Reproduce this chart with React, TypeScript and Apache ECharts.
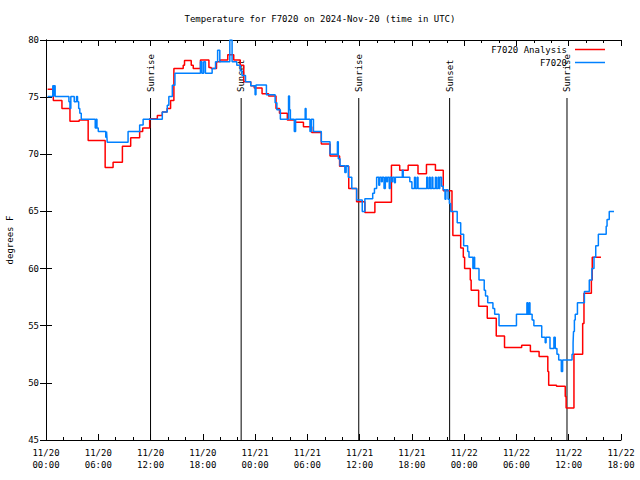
import React, { useEffect, useRef } from 'react';
import * as echarts from 'echarts';

const chartTitle = 'Temperature for F7020 on 2024-Nov-20 (time in UTC)';
const yAxisTitle = 'degrees F';
const seriesNames = ['F7020 Analysis', 'F7020'];

// x axis: hours since 11/20 00:00 UTC
const xDayLabels = ['11/20', '11/20', '11/20', '11/20', '11/21', '11/21', '11/21', '11/21', '11/22', '11/22', '11/22', '11/22'];
const xHourLabels = ['00:00', '06:00', '12:00', '18:00', '00:00', '06:00', '12:00', '18:00', '00:00', '06:00', '12:00', '18:00'];
const X_MIN = 0;
const X_MAX = 66;
const X_STEP = 6;
const Y_MIN = 45;
const Y_MAX = 80;
const Y_STEP = 5;

// F7020 Analysis (red), step series: hour when value begins, value
const analysisHours = [
  0.19, 0.84, 1.83, 2.75, 3.81, 4.84, 6.79, 7.7, 8.77, 9.72, 10.75, 11.1, 11.9, 12.78, 13.35, 13.9, 14.3,
  14.68, 15.75, 15.9, 16.67, 16.9, 17.73, 18.7, 18.96, 19.57, 20.0, 20.86, 21.55, 22.3, 22.7, 23.5, 23.9,
  24.8, 25.55, 26.4, 26.8, 27.7, 28.6, 29.55, 30.5, 31.6, 32.6, 33.7, 34.75, 35.65, 36.6, 37.75, 39.65,
  40.6, 41.57, 42.7, 43.67, 44.7, 45.6, 46.6, 46.7, 47.6, 47.9, 48.05, 48.7, 48.8, 49.66, 50.65, 51.68,
  52.63, 54.6, 55.6, 56.6, 57.6, 57.7, 58.6, 59.6, 59.7, 60.6, 61.6, 61.75, 62.6, 62.7, 63.7,
];
const analysisTemps = [
  75.7, 74.7, 74.0, 72.9, 73.0, 71.2, 68.85, 69.3, 70.7, 71.45, 72.0, 72.3, 73.1, 73.4, 73.7, 74.0, 74.7,
  77.5, 77.8, 78.2, 77.8, 77.5, 78.25, 77.6, 77.5, 78.1, 78.25, 78.7, 78.25, 77.8, 76.35, 76.0, 75.8,
  75.3, 75.1, 74.0, 73.6, 73.0, 72.8, 72.4, 71.9, 70.9, 69.85, 68.95, 67.0, 65.85, 64.9, 65.8, 69.05,
  68.6, 69.05, 68.3, 69.1, 68.6, 66.8, 65.0, 62.9, 61.8, 61.0, 60.0, 59.0, 58.1, 56.7, 55.65, 54.1,
  53.1, 53.3, 52.75, 52.3, 51.0, 49.8, 49.7, 48.8, 47.8, 52.5, 55.2, 57.85, 59.0, 61.0, 61.0,
];

// F7020 observations (blue)
const obsHours = [
  0.19, 0.78, 0.88, 0.95, 1.05, 2.63, 2.75, 2.85, 3.24, 3.5, 3.62, 3.75, 3.88, 4.05, 5.65, 5.75, 5.85,
  6.0, 6.86, 6.95, 7.03, 9.42, 10.75, 11.15, 13.35, 13.92, 14.1, 14.5, 14.8, 17.73, 17.9, 18.1, 18.3,
  19.07, 19.46, 19.7, 19.95, 21.1, 21.36, 21.9, 22.3, 22.5, 22.9, 23.5, 24.0, 24.1, 25.3, 26.3, 26.5,
  26.9, 27.84, 27.95, 28.05, 28.5, 28.65, 29.75, 29.85, 30.3, 30.45, 30.7, 31.6, 32.6, 33.45, 33.55,
  33.75, 34.3, 34.45, 34.7, 35.1, 35.66, 36.3, 36.6, 37.5, 37.7, 37.95, 38.2, 38.3, 38.5, 38.6, 38.8,
  38.95, 39.1, 39.2, 39.4, 39.5, 39.7, 39.8, 40.0, 40.1, 40.9, 41.0, 41.76, 42.0, 42.3, 42.4, 42.6,
  42.7, 43.7, 43.8, 44.0, 44.1, 44.3, 44.4, 44.7, 44.8, 45.0, 45.1, 45.2, 45.4, 45.6, 45.8, 45.9,
  46.15, 46.3, 46.45, 46.6, 47.2, 47.6, 47.94, 48.4, 48.55, 49.0, 49.1, 49.2, 49.3, 49.7, 50.3, 50.45,
  50.7, 51.3, 51.5, 52.0, 54.0, 55.2, 55.3, 55.45, 55.55, 55.8, 56.0, 56.9, 57.3, 57.4, 57.85, 58.3,
  58.45, 58.65, 58.85, 59.15, 59.3, 60.38, 60.5, 60.55, 60.65, 60.75, 61.0, 61.8, 62.36, 62.66, 62.9,
  63.1, 63.4, 64.3, 64.4, 64.65, 65.2,
];
const obsTemps = [
  75.05, 76.0, 75.05, 76.0, 75.05, 74.6, 74.0, 75.05, 74.6, 75.05, 74.6, 74.0, 73.6, 73.06, 72.3, 73.06, 72.3,
  72.0, 71.5, 72.0, 71.05, 72.0, 72.56, 73.06, 73.7, 74.3, 75.05, 76.05, 77.08, 78.1, 77.08, 78.1, 77.08,
  77.5, 78.1, 79.1, 78.1, 80.0, 78.1, 77.8, 77.3, 76.9, 76.35, 76.0, 75.2, 76.06, 75.2, 74.5, 73.9,
  73.06, 75.1, 73.9, 73.06, 72.0, 73.06, 74.0, 73.06, 72.0, 73.06, 72.0, 71.1, 70.0, 71.1, 69.6,
  69.0, 68.4, 69.0, 68.0, 67.0, 66.0, 65.0, 66.1, 66.6, 67.0, 68.0, 67.3, 68.0, 67.6, 68.0, 67.0,
  68.0, 67.6, 68.0, 67.0, 68.0, 67.6, 68.0, 67.5, 68.0, 68.6, 68.0, 67.6, 67.0, 68.0, 67.0, 68.0,
  67.0, 68.0, 67.0, 68.0, 67.0, 68.0, 67.0, 68.0, 67.0, 68.0, 67.0, 68.0, 67.2, 66.9, 66.06, 66.9,
  66.06, 65.7, 65.0, 65.0, 64.0, 63.0, 62.0, 61.5, 61.0, 60.0, 61.0, 60.0, 60.0, 59.0, 58.1, 57.6,
  57.0, 56.5, 56.0, 55.0, 56.0, 57.0, 56.0, 57.0, 56.0, 55.5, 55.0, 54.0, 53.5, 54.0, 53.0, 54.0,
  53.0, 52.5, 52.0, 51.0, 52.0, 52.5, 53.5, 54.5, 55.5, 56.0, 57.0, 58.0, 59.0, 60.0, 61.0,
  62.0, 63.0, 63.7, 64.3, 65.0, 65.0,
];

// sunrise / sunset markers (hours since 11/20 00:00 UTC)
const sunHours = [12.0, 22.4, 35.9, 46.33, 59.8];
const sunLabels = ['Sunrise', 'Sunset', 'Sunrise', 'Sunset', 'Sunrise'];

const FONT = 'DejaVu Sans Mono';
const FS = 9;

export default function App() {
  const ref = useRef<HTMLDivElement>(null);
  useEffect(() => {
    if (!ref.current) return;
    const chart = echarts.init(ref.current, undefined, { renderer: 'svg' });
    const axisCommon = {
      type: 'value' as const,
      axisLine: { show: true, lineStyle: { color: '#000', width: 1 } },
      splitLine: { show: false },
    };
    chart.setOption({
      animation: false,
      backgroundColor: '#fff',
      textStyle: { fontFamily: FONT, fontSize: FS, color: '#000' },
      title: {
        text: chartTitle,
        left: 'center',
        top: 14,
        padding: 0,
        textStyle: { fontFamily: FONT, fontSize: FS, fontWeight: 'normal', color: '#000' },
      },
      legend: {
        data: seriesNames,
        orient: 'vertical',
        right: 30,
        top: 40,
        align: 'right',
        icon: 'rect',
        itemWidth: 30,
        itemHeight: 1.5,
        itemGap: 4,
        textStyle: { fontFamily: FONT, fontSize: FS, color: '#000', padding: [0, 3, 0, 0] },
      },
      grid: { left: 46, right: 19, top: 40, bottom: 40, containLabel: false, outerBoundsMode: 'none' },
      xAxis: [
        {
          ...axisCommon,
          position: 'bottom',
          min: X_MIN,
          max: X_MAX,
          interval: X_STEP,
          axisTick: { show: true, inside: true, length: 6, lineStyle: { color: '#000' } },
          minorTick: { show: true, splitNumber: 3, length: 3, lineStyle: { color: '#000' } },
          axisLabel: {
            margin: 7,
            lineHeight: 12,
            fontFamily: FONT,
            fontSize: FS,
            color: '#000',
            formatter: (v: number) => {
              const i = Math.round((v - X_MIN) / X_STEP);
              return xDayLabels[i] + '\n' + xHourLabels[i];
            },
          },
        },
        {
          ...axisCommon,
          position: 'top',
          min: X_MIN,
          max: X_MAX,
          interval: X_STEP,
          axisTick: { show: true, inside: true, length: 6, lineStyle: { color: '#000' } },
          minorTick: { show: true, splitNumber: 3, length: 3, lineStyle: { color: '#000' } },
          axisLabel: { show: false },
        },
      ],
      yAxis: [
        {
          ...axisCommon,
          position: 'left',
          min: Y_MIN,
          max: Y_MAX,
          interval: Y_STEP,
          name: yAxisTitle,
          nameLocation: 'middle',
          nameGap: 32,
          nameRotate: 90,
          nameTextStyle: { fontFamily: FONT, fontSize: FS, color: '#000' },
          axisTick: { show: true, inside: true, length: 6, lineStyle: { color: '#000' } },
          axisLabel: { margin: 7, fontFamily: FONT, fontSize: FS, color: '#000' },
        },
        {
          ...axisCommon,
          position: 'right',
          min: Y_MIN,
          max: Y_MAX,
          interval: Y_STEP,
          axisTick: { show: true, inside: true, length: 6, lineStyle: { color: '#000' } },
          axisLabel: { show: false },
        },
      ],
      series: [
        {
          type: 'custom',
          name: 'sun',
          xAxisIndex: 0,
          yAxisIndex: 0,
          data: sunHours.map((h) => [h, Y_MIN]),
          encode: { x: 0, y: 1 },
          silent: true,
          renderItem: (params: any, api: any) => {
            const p = api.coord([api.value(0), Y_MIN]);
            const top = params.coordSys.y;
            return {
              type: 'group',
              children: [
                {
                  type: 'line',
                  shape: { x1: p[0], y1: top + 58, x2: p[0], y2: p[1] },
                  style: { stroke: '#000', lineWidth: 1 },
                },
                {
                  type: 'text',
                  x: p[0],
                  y: top + 52,
                  rotation: Math.PI / 2,
                  style: {
                    text: sunLabels[params.dataIndex],
                    fill: '#000',
                    font: `${FS}px "${FONT}"`,
                    align: 'left',
                    verticalAlign: 'middle',
                  },
                },
              ],
            };
          },
        },
        {
          type: 'line',
          name: seriesNames[0],
          data: analysisHours.map((h, i) => [h, analysisTemps[i]]),
          step: 'end',
          symbol: 'none',
          lineStyle: { color: '#ff0000', width: 1.5 },
          itemStyle: { color: '#ff0000' },
        },
        {
          type: 'line',
          name: seriesNames[1],
          data: obsHours.map((h, i) => [h, obsTemps[i]]),
          step: 'end',
          symbol: 'none',
          lineStyle: { color: '#0080ff', width: 1.5 },
          itemStyle: { color: '#0080ff' },
        },
      ],
    });
    return () => chart.dispose();
  }, []);
  return (
    <div
      ref={ref}
      style={{ position: 'fixed', left: 0, top: 0, width: 640, height: 480, background: '#fff' }}
    />
  );
}
